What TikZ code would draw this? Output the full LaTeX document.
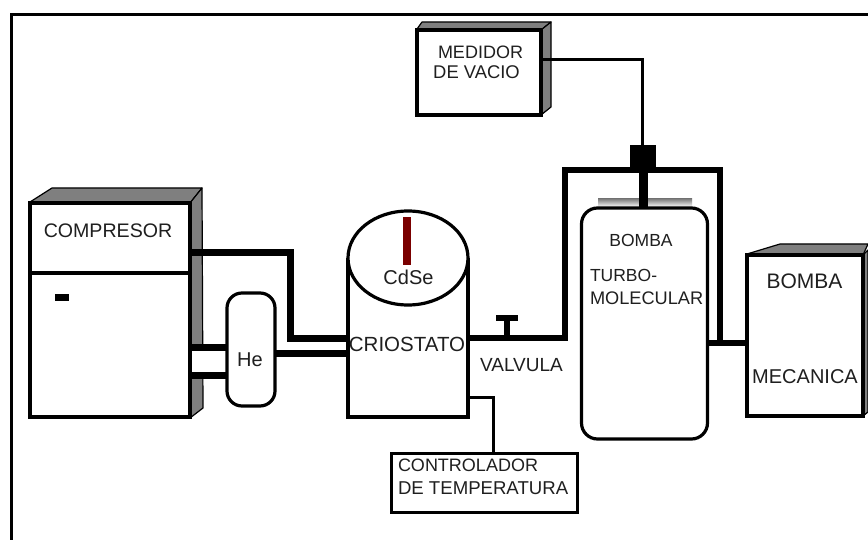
\documentclass[tikz,border=0pt]{standalone}
\usepackage{fontspec}
\setmainfont{Liberation Sans}
\usetikzlibrary{shapes.geometric}
\definecolor{shade}{HTML}{7F7F7F}
\definecolor{crystal}{HTML}{7A0000}
\tikzset{
  frontbox/.style={draw=black,line width=3.5pt,fill=white,rectangle,inner sep=0pt,outer sep=0pt},
  pill/.style={draw=black,line width=3.2pt,fill=white,rectangle,rounded corners=#1,inner sep=0pt,outer sep=0pt},
  shadeface/.style={fill=shade,draw=black,line width=1.2pt,line join=round},
  pipe/.style={draw=black,line width=7pt,line join=miter},
  wire/.style={draw=black,line width=3pt,line join=miter},
  lab/.style={inner sep=0pt,outer sep=0pt,text=black!88,font=\fontsize{#1}{#1}\selectfont},
  lab/.default=18
}
\begin{document}
\begin{tikzpicture}[x=1pt,y=-1pt]
\useasboundingbox (0,0) rectangle (868,540);
\fill[white] (0,0) rectangle (868,540);
% outer frame
\coordinate (frameBL) at (11,540);
\coordinate (frameTL) at (11,15);
\coordinate (frameTR) at (868,15);
\draw[black,line width=3pt,line join=miter] (frameBL) -- (frameTL) -- (frameTR);

% shaded faces
\draw[shadeface] (30,202) -- (52,188) -- (202,188) -- (190,203) -- cycle;
\draw[shadeface] (190,203) -- (202,188) -- (203,408) -- (190,418) -- cycle;
\draw[shadeface] (417,29) -- (422,22) -- (551,22) -- (541,30) -- cycle;
\draw[shadeface] (541,30) -- (551,22) -- (551,107) -- (541,115) -- cycle;
\draw[shadeface] (747,254) -- (780,244) -- (868,244) -- (863,255) -- cycle;
\draw[shadeface] (863,255) -- (868,250) -- (868,412) -- (863,416) -- cycle;
\fill[shade] (598,199) rectangle (692,207);
% white gap between the two lower pipes, across the shaded face
\fill[white] (190,350) rectangle (228,372);

% nodes
\node[frontbox,minimum width=160pt,minimum height=214pt] (comp) at (110,310) {};
\node[frontbox,minimum width=124pt,minimum height=85pt] (medidor) at (479,72.5) {};
\node[frontbox,minimum width=116pt,minimum height=161pt] (mecanica) at (805,335.5) {};
\node[frontbox,line width=3pt,minimum width=186pt,minimum height=59pt] (control) at (484,482.5) {};
\node[pill=15pt,minimum width=48pt,minimum height=113pt] (he) at (251,349.5) {};
\node[pill=16pt,minimum width=126pt,minimum height=231pt] (turbo) at (644.5,323.5) {};
\node[fill=black,minimum width=26pt,minimum height=25pt,inner sep=0pt,outer sep=0pt] (joint) at (643,157.5) {};
\node[fill=black,minimum width=14pt,minimum height=7pt,inner sep=0pt,outer sep=0pt] (indicator) at (62,297.5) {};
\node[minimum width=120pt,minimum height=159pt,inner sep=0pt,outer sep=0pt] (crio) at (408,258) {};
\coordinate (crioSW) at (348,417);
\coordinate (crioSE) at (468,417);
\coordinate (crioNW) at (348,258);
\coordinate (crioNE) at (468,258);

% turning points
\coordinate (p1a) at (190,253);
\coordinate (p1b) at (290,253);
\coordinate (p1c) at (290,338);
\coordinate (p1d) at (348,338);
\coordinate (p2a) at (190,347);
\coordinate (p2b) at (190,375);
\coordinate (p3) at (348,353);
\coordinate (v1) at (468,338);
\coordinate (v2) at (565,338);
\coordinate (v3) at (565,170);
\coordinate (v4) at (720,170);
\coordinate (v5) at (720,343);
\coordinate (m1) at (708,343);
\coordinate (m2) at (747,343);
\coordinate (vs) at (507,338);
\coordinate (vc) at (507,318);
\coordinate (vcl) at (496,318);
\coordinate (vcr) at (518,318);
\coordinate (t1) at (468,397);
\coordinate (t2) at (493,397);
\coordinate (md1) at (541,60);
\coordinate (md2) at (642,60);
\coordinate (stemb) at (643,207);

% connectors
\draw[pipe] (p1a) -- (p1b) -- (p1c) -- (p1d);
\draw[pipe] (p2a) -- (p2a -| he.west);
\draw[pipe] (p2b) -- (p2b -| he.west);
\draw[pipe] (p3 -| he.east) -- (p3);
\draw[draw=black,line width=6pt,line join=miter] (v1) -- (v2) -- (v3) -- (v4) -- (v5);
\draw[draw=black,line width=6pt] (m1) -- (m2);
\draw[draw=black,line width=6pt] (vs) -- (vc);
\draw[draw=black,line width=6pt] (vcl) -- (vcr);
\draw[wire] (t1) -- (t2) -- (t2 |- control.north);
\draw[wire] (md1) -- (md2) -- (md2 |- joint.north);
\draw[draw=black,line width=9pt] (joint.south) -- (stemb);

% redraw edges over the pipe ends
\draw[frontbox,fill=none] (comp.south west) rectangle (comp.north east);
\coordinate (divL) at (comp.west |- 0,273);
\coordinate (divR) at (comp.east |- 0,273);
\draw[black,line width=3.5pt] (divL) -- (divR);

% cryostat
\draw[black,line width=3.2pt,line join=miter] (crioNW) -- (crioSW) -- (crioSE) -- (crioNE);
\node[ellipse,draw=black,line width=3.2pt,fill=white,minimum width=120pt,minimum height=94pt,inner sep=0pt,outer sep=0pt] (lid) at (408,258) {};
\node[fill=crystal,minimum width=8pt,minimum height=48pt,inner sep=0pt,outer sep=0pt] (cdsebar) at (407,241) {};

% labels
\node[lab=19.6] (tcomp) at (108,231) {COMPRESOR};
\node[lab=20] (the) at (250,360) {He};
\node[lab=20] (tcdse) at (408.5,277) {CdSe};
\node[lab=20.5] (tcrio) at (407,344) {CRIOSTATO};
\node[lab=19] (tvalv) at (521.5,365) {VALVULA};
\node[lab=18,anchor=west] (tcontrol) at (398,465) {CONTROLADOR};
\node[lab=18.6,anchor=west] (ttemp) at (398,488) {DE TEMPERATURA};
\node[lab=18,anchor=center] (tmed) at (480.5,52) {MEDIDOR};
\node[lab=18.4,anchor=center] (tvac) at (476.5,72) {DE VACIO};
\node[lab=17.5] (tb1) at (641,240) {BOMBA};
\node[lab=17.5,anchor=west] (ttu) at (590,275) {TURBO-};
\node[lab=18.2,anchor=west] (tmo) at (590,298) {MOLECULAR};
\node[lab=21] (tb2) at (804.5,281) {BOMBA};
\node[lab=20,anchor=center] (tme) at (805,377) {MECANICA};
\end{tikzpicture}
\end{document}
